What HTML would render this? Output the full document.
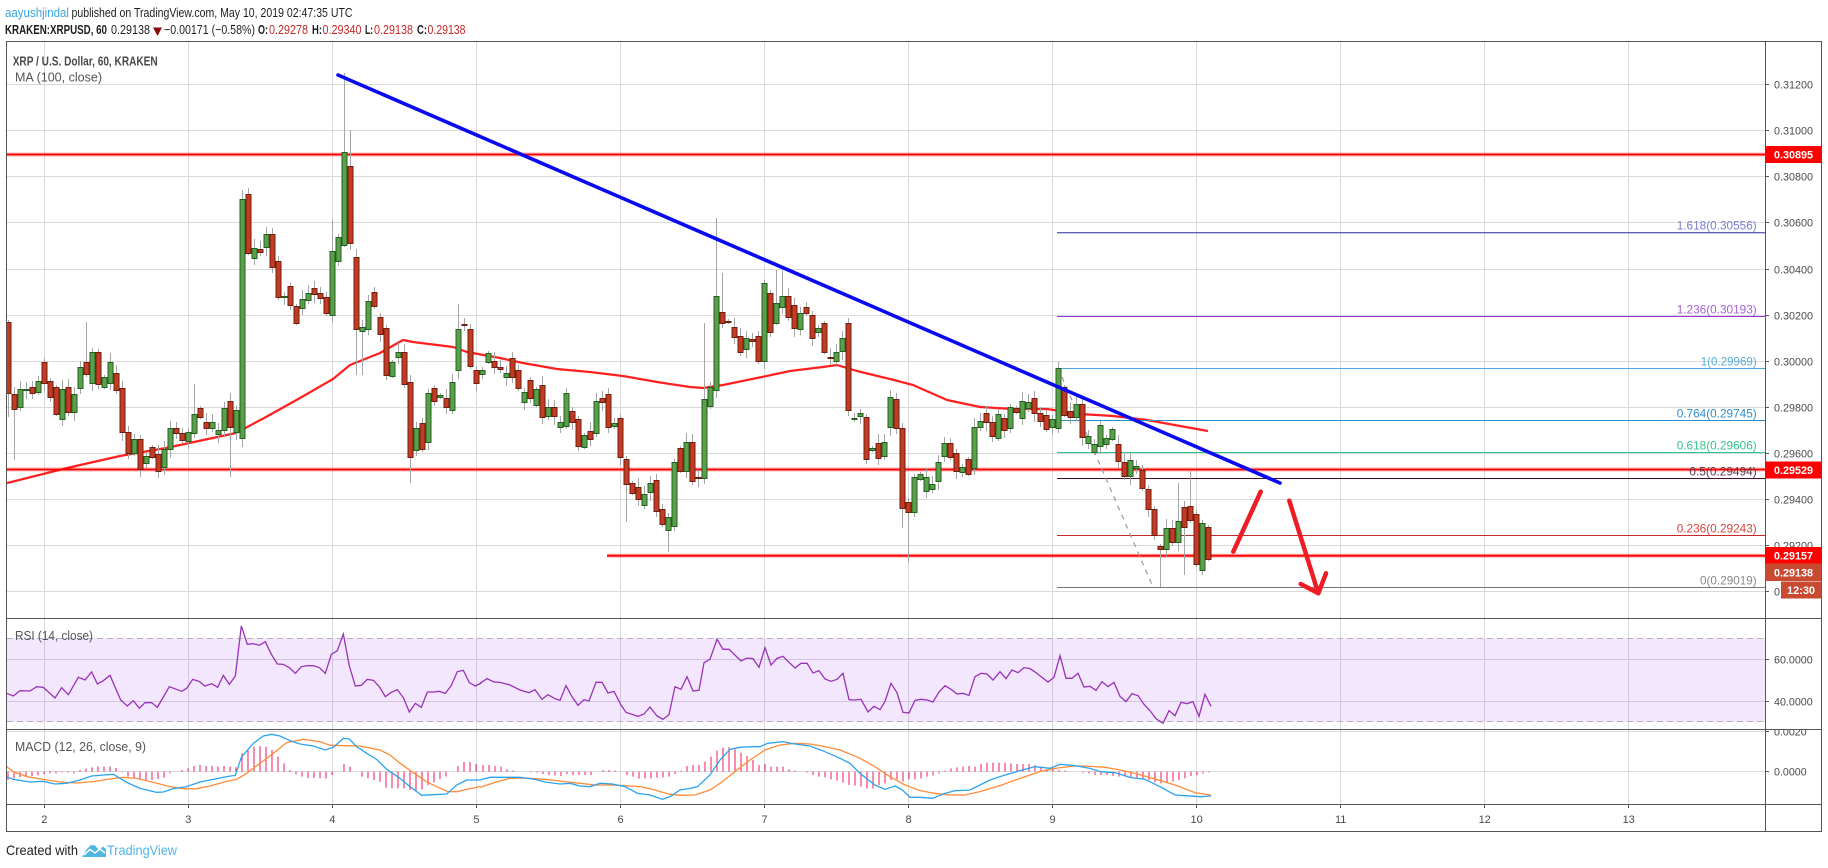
<!DOCTYPE html>
<html><head><meta charset="utf-8"><style>
html,body{margin:0;padding:0;background:#fff;}
svg{display:block;font-family:"Liberation Sans",Arial,sans-serif;}
</style></head><body>
<svg width="1828" height="868" viewBox="0 0 1828 868" xmlns="http://www.w3.org/2000/svg">
<defs>
<clipPath id="pp"><rect x="7" y="42" width="1758" height="576"/></clipPath>
<clipPath id="mc"><rect x="1766" y="730" width="56" height="74"/></clipPath>
</defs>
<rect width="1828" height="868" fill="#fff"/>

<!-- header -->
<text x="5" y="17" font-size="13" fill="#39a5dc" textLength="64" lengthAdjust="spacingAndGlyphs">aayushjindal</text>
<text x="71.5" y="17" font-size="13" fill="#1e1e1e" textLength="281" lengthAdjust="spacingAndGlyphs">published on TradingView.com, May 10, 2019 02:47:35 UTC</text>
<g font-size="13">
<text x="5" y="34" font-weight="bold" fill="#1e1e1e" textLength="102" lengthAdjust="spacingAndGlyphs">KRAKEN:XRPUSD, 60</text>
<text x="111" y="34" fill="#1e1e1e" textLength="39" lengthAdjust="spacingAndGlyphs">0.29138</text>
<polygon points="153,27.5 162,27.5 157.5,36" fill="#8b0a0a"/>
<text x="164" y="34" fill="#1e1e1e" textLength="91" lengthAdjust="spacingAndGlyphs">−0.00171 (−0.58%)</text>
<text x="258" y="34" font-weight="bold" fill="#1e1e1e" textLength="10" lengthAdjust="spacingAndGlyphs">O:</text>
<text x="269" y="34" fill="#c62828" textLength="39" lengthAdjust="spacingAndGlyphs">0.29278</text>
<text x="312" y="34" font-weight="bold" fill="#1e1e1e" textLength="10" lengthAdjust="spacingAndGlyphs">H:</text>
<text x="322.5" y="34" fill="#c62828" textLength="39" lengthAdjust="spacingAndGlyphs">0.29340</text>
<text x="365" y="34" font-weight="bold" fill="#1e1e1e" textLength="8" lengthAdjust="spacingAndGlyphs">L:</text>
<text x="374" y="34" fill="#c62828" textLength="39" lengthAdjust="spacingAndGlyphs">0.29138</text>
<text x="417" y="34" font-weight="bold" fill="#1e1e1e" textLength="10" lengthAdjust="spacingAndGlyphs">C:</text>
<text x="427.5" y="34" fill="#c62828" textLength="38" lengthAdjust="spacingAndGlyphs">0.29138</text>
</g>

<!-- grid: vertical -->
<g stroke="#d9d9d9" stroke-width="1">
<path d="M44.5 42V804M188.5 42V804M332.5 42V804M476.5 42V804M620.5 42V804M764.5 42V804M908.5 42V804M1052.5 42V804M1196.5 42V804M1340.5 42V804M1484.5 42V804M1628.5 42V804"/>
<path d="M7 84.5H1765M7 130.5H1765M7 176.5H1765M7 222.5H1765M7 269.5H1765M7 315.5H1765M7 361.5H1765M7 407.5H1765M7 453.5H1765M7 499.5H1765M7 545.5H1765M7 591.5H1765"/>
<path d="M7 731.5H1765M7 771.5H1765"/>
</g>

<!-- RSI band -->
<rect x="7" y="638" width="1758" height="84" fill="#f3e7fd"/>
<g stroke="#d2c5de" stroke-width="1">
<path d="M7 659.5H1765M7 701.5H1765"/>
<path d="M44.5 638V722M188.5 638V722M332.5 638V722M476.5 638V722M620.5 638V722M764.5 638V722M908.5 638V722M1052.5 638V722M1196.5 638V722M1340.5 638V722M1484.5 638V722M1628.5 638V722"/>
</g>
<g stroke="#b9b0bf" stroke-width="1" stroke-dasharray="6,4">
<path d="M7 638.5H1765M7 721.5H1765"/>
</g>

<!-- price pane content -->
<g clip-path="url(#pp)">
<!-- MA 100 -->
<polyline fill="none" stroke="#ff1f1f" stroke-width="2.2" stroke-linejoin="round" points="7,483 67,468 120,456 166,448 236,433 266,417 300,398 333,379 350,365 380,353 403,340 413,342 453,347 467,352 500,358 523,363 557,369 590,372 623,376 657,382 690,387 703,388 723,385 757,378 790,371 823,367 837,365 857,371 890,379 913,385 947,400 980,407 1013,409 1047,409 1080,414 1113,416 1147,420 1180,426 1208,431"/>
<!-- horizontal red levels -->
<g stroke="#ff0000">
<path d="M7 154.5H1765M7 469.5H1765M607 555.7H1765" stroke-width="4" stroke-opacity="0.3"/>
<path d="M7 154.5H1765M7 469.5H1765M607 555.7H1765" stroke-width="1.8"/>
</g>
<!-- fib lines -->
<g stroke-width="1">
<path d="M1057 232.7H1765" stroke="#2a2aa0"/>
<path d="M1057 316.5H1765" stroke="#9b30d9"/>
<path d="M1057 368.5H1765" stroke="#4aa8e0"/>
<path d="M1057 420.5H1765" stroke="#2490d0"/>
<path d="M1057 452.5H1765" stroke="#26c98a"/>
<path d="M1057 478.5H1765" stroke="#4a0c2c"/>
<path d="M1057 535.5H1765" stroke="#c82828"/>
<path d="M1057 587.5H1765" stroke="#777777"/>
</g>
<path d="M1058 368L1153 587" stroke="#9a9a9a" stroke-width="1.2" stroke-dasharray="5,5" fill="none"/>
<!-- candles -->
<g id="candles"></g>
<!-- trendline -->
<path d="M338 75L1280 483" stroke="#0a0af0" stroke-width="3.6" stroke-linecap="round"/>
<!-- arrows -->
<g stroke="#ee1c25" stroke-width="4.5" stroke-linecap="round" stroke-linejoin="round" fill="none">
<path d="M1233.3 551.7L1260.7 491.7"/>
<path d="M1289.3 500.7L1318.3 593.3"/>
<path d="M1300.7 584L1318.3 593.3L1326 573.3"/>
</g>
<!-- fib labels -->
<g font-size="12">
<text x="1676.7" y="229.5" fill="#7b7bd6" textLength="80" lengthAdjust="spacingAndGlyphs">1.618(0.30556)</text>
<text x="1676.7" y="313.5" fill="#a85fd8" textLength="80" lengthAdjust="spacingAndGlyphs">1.236(0.30193)</text>
<text x="1700.7" y="365.5" fill="#5aacdc" textLength="56" lengthAdjust="spacingAndGlyphs">1(0.29969)</text>
<text x="1676.7" y="417.5" fill="#2f8fcf" textLength="80" lengthAdjust="spacingAndGlyphs">0.764(0.29745)</text>
<text x="1676.7" y="449.5" fill="#35c48c" textLength="80" lengthAdjust="spacingAndGlyphs">0.618(0.29606)</text>
<text x="1689.4" y="475.5" fill="#5a3a4a" textLength="67.3" lengthAdjust="spacingAndGlyphs">0.5(0.29494)</text>
<text x="1676.7" y="532.5" fill="#d8443c" textLength="80" lengthAdjust="spacingAndGlyphs">0.236(0.29243)</text>
<text x="1700" y="584.5" fill="#8a8a8a" textLength="56.7" lengthAdjust="spacingAndGlyphs">0(0.29019)</text>
</g>
</g>

<!-- pane legends -->
<text x="12.7" y="65.5" font-size="13" font-weight="bold" fill="#4a4a4a" textLength="145" lengthAdjust="spacingAndGlyphs">XRP / U.S. Dollar, 60, KRAKEN</text>
<text x="15" y="81.5" font-size="13" fill="#555" textLength="87" lengthAdjust="spacingAndGlyphs">MA (100, close)</text>
<text x="15" y="640" font-size="13" fill="#555" textLength="78" lengthAdjust="spacingAndGlyphs">RSI (14, close)</text>
<text x="15" y="751" font-size="13" fill="#555" textLength="131" lengthAdjust="spacingAndGlyphs">MACD (12, 26, close, 9)</text>

<!-- RSI line -->
<g transform="translate(0,520) scale(0.333333)">
<polyline fill="none" stroke="#9932b8" stroke-width="1.3" vector-effect="non-scaling-stroke" points="20,520 40,528 60,512 90,513 110,500 130,502 165,534 185,503 205,524 235,472 255,480 275,456 292,492 310,482 330,466 362,540 382,558 400,542 418,565 435,548 455,548 472,562 508,500 545,514 560,505 578,478 597,484 615,498 635,491 653,502 670,466 688,493 706,468 724,318 742,373 760,371 778,376 796,365 814,403 832,432 850,433 868,443 886,460 904,440 922,437 940,437 958,443 976,460 994,403 1012,392 1030,342 1048,438 1066,498 1084,496 1102,478 1120,481 1138,500 1156,530 1174,517 1192,509 1210,533 1228,576 1246,550 1264,562 1282,516 1300,516 1318,514 1336,520 1354,496 1372,455 1390,451 1408,488 1426,498 1444,489"/>
</g>
<g transform="translate(480,620) scale(0.5,0.333333)">
<polyline fill="none" stroke="#9932b8" stroke-width="1.3" vector-effect="non-scaling-stroke" points="0,190 14,176 28,186 40,187 60,195 80,210 98,218 110,209 124,238 136,224 150,236 160,241 172,197 184,230 196,256 208,239 218,243 232,187 244,187 256,219 268,214 282,255 292,277 316,289 328,282 340,261 354,288 366,298 378,284 390,200 402,208 414,170 426,213 438,211 448,128 460,118 474,58 486,88 498,88 522,123 534,114 546,116 558,142 570,83 582,135 594,115 606,109 618,127 630,144 642,130 654,130 666,159 678,152 690,177 702,184 714,178 726,160 738,239 750,240 762,238 776,276 788,259 800,269 810,244 822,190 834,218 846,277 858,279 870,241 882,238 894,240 906,246 918,216 930,197 942,208 954,222 966,220 978,226 990,170 1002,160 1014,162 1026,180 1040,155 1052,176 1064,150 1076,158 1088,143 1100,146 1112,158 1124,172 1136,186 1148,172 1160,107 1172,175 1184,175 1196,160 1208,201 1220,199 1232,211 1244,185 1256,200 1268,187 1280,229 1292,245 1304,221 1316,227 1328,253 1340,272 1352,296 1366,310 1378,272 1390,287 1402,247 1414,251 1426,245 1438,289 1450,223 1462,259"/>
</g>

<!-- MACD -->
<g transform="translate(0,520) scale(0.333333)" fill="none" vector-effect="non-scaling-stroke">
<path stroke="#f2185b" stroke-width="1" vector-effect="non-scaling-stroke" d="M24 755V780M42 755V775M60 755V772M78 755V770M96 755V768M114 755V766M132 755V762M150 755V760M168 755V760M186 755V757M204 755V758M222 755V760M240 755V750M258 755V746M276 755V742M294 755V740M312 755V740M330 755V740M348 755V744M366 755V757M384 755V770M402 755V775M420 755V778M438 755V780M456 755V780M474 755V777M492 755V773M510 755V760M546 755V750M564 755V745M582 755V738M600 755V735M618 755V738M636 755V738M654 755V740M672 755V738M690 755V740M708 755V742M726 755V700M744 755V688M762 755V680M780 755V678M798 755V680M816 755V690M834 755V710M852 755V730M870 755V750M888 755V763M906 755V770M924 755V774M942 755V774M960 755V775M978 755V776M996 755V765M1032 755V732M1050 755V740M1086 755V770M1104 755V775M1122 755V780M1140 755V786M1158 755V803M1176 755V805M1194 755V805M1212 755V805M1230 755V810M1248 755V812M1266 755V808M1284 755V795M1302 755V787M1320 755V777M1338 755V770M1374 755V738M1392 755V726M1410 755V726M1428 755V732"/>
<polyline stroke="#ff8c38" stroke-width="1.3" vector-effect="non-scaling-stroke" points="20,740 40,755 80,770 130,778 180,786 230,789 280,785 330,777 370,772 410,775 460,787 510,800 550,806 590,806 630,798 680,784 710,778 740,760 780,730 820,700 860,668 910,658 960,665 990,676 1040,677 1080,678 1140,690 1170,705 1200,730 1240,758 1280,785 1310,800 1345,815 1370,815 1400,808 1440,800"/>
<polyline stroke="#2aa3f0" stroke-width="1.3" vector-effect="non-scaling-stroke" points="20,770 40,778 90,786 130,784 165,792 200,790 240,780 275,768 310,765 340,763 380,787 420,805 470,817 490,816 520,806 560,800 600,786 640,778 680,770 706,766 724,712 760,670 790,648 815,643 840,648 870,662 900,672 940,678 975,690 1000,682 1030,655 1048,657 1070,680 1100,700 1130,718 1160,748 1200,775 1230,800 1265,826 1300,824 1340,822 1370,795 1400,780 1440,780"/>
</g>
<g transform="translate(480,620) scale(0.5,0.333333)" fill="none">
<path stroke="#f2185b" stroke-width="1" vector-effect="non-scaling-stroke" d="M6 455V435M18 455V435M30 455V438M42 455V440M54 455V448M66 455V452M78 455V455M102 455V457M114 455V458M126 455V462M138 455V465M150 455V466M162 455V468M174 455V462M186 455V465M198 455V465M210 455V465M222 455V465M246 455V450M258 455V450M270 455V452M294 455V465M306 455V470M318 455V476M330 455V475M342 455V475M354 455V473M366 455V472M378 455V470M390 455V462M402 455V452M414 455V438M426 455V435M438 455V435M450 455V425M462 455V410M474 455V392M486 455V383M498 455V382M510 455V388M522 455V398M534 455V408M546 455V420M558 455V435M570 455V432M582 455V440M594 455V440M606 455V440M618 455V448M630 455V452M654 455V458M666 455V465M678 455V470M690 455V472M702 455V478M714 455V482M726 455V488M738 455V495M750 455V497M762 455V500M774 455V505M786 455V505M798 455V495M810 455V490M822 455V480M834 455V478M846 455V485M858 455V478M870 455V478M882 455V475M894 455V470M906 455V466M918 455V460M930 455V452M942 455V445M954 455V442M966 455V440M978 455V438M990 455V440M1002 455V432M1014 455V428M1026 455V428M1038 455V428M1050 455V428M1062 455V430M1074 455V432M1086 455V432M1098 455V432M1110 455V435M1122 455V440M1134 455V448M1146 455V448M1158 455V450M1170 455V452M1182 455V455M1194 455V455M1206 455V458M1218 455V460M1230 455V465M1242 455V465M1254 455V465M1266 455V468M1278 455V470M1290 455V470M1302 455V472M1314 455V473M1326 455V475M1338 455V480M1350 455V487M1362 455V490M1374 455V490M1386 455V485M1398 455V480M1410 455V475M1422 455V468M1434 455V465M1446 455V460M1458 455V458"/>
<polyline stroke="#ff8c38" stroke-width="1.3" vector-effect="non-scaling-stroke" points="0,502 30,487 60,475 90,474 130,478 170,485 200,490 230,495 260,495 290,497 320,500 345,508 380,523 400,526 430,525 460,510 480,490 510,455 540,420 570,390 600,375 630,370 660,372 690,380 720,390 760,415 790,440 820,470 850,495 880,512 910,520 940,525 970,525 1000,515 1040,497 1080,475 1120,455 1150,445 1190,438 1210,438 1250,442 1280,450 1310,460 1350,477 1390,495 1430,518 1462,525"/>
<polyline stroke="#2aa3f0" stroke-width="1.3" vector-effect="non-scaling-stroke" points="0,480 20,472 80,472 110,478 130,486 160,492 180,490 200,498 220,500 240,490 265,492 290,500 315,520 340,525 365,538 380,530 400,510 420,505 435,500 460,465 480,420 500,388 520,382 545,380 560,380 575,370 605,365 630,372 660,378 690,395 720,415 740,430 760,460 790,495 810,508 830,498 845,510 860,532 880,532 905,535 930,520 950,512 980,510 1000,495 1020,480 1050,465 1080,452 1110,440 1140,445 1160,433 1190,437 1220,445 1240,455 1270,458 1300,472 1330,478 1360,500 1390,525 1410,527 1440,530 1462,528"/>
</g>

<!-- frame -->
<g stroke="#555" stroke-width="1" fill="none">
<rect x="6.5" y="41.5" width="1815" height="790"/>
<path d="M1765.5 41.5V831.5M6.5 618.5H1821.5M6.5 729.5H1821.5M6.5 804.5H1821.5"/>
<path d="M1765 84.5H1769M1765 130.5H1769M1765 176.5H1769M1765 222.5H1769M1765 269.5H1769M1765 315.5H1769M1765 361.5H1769M1765 407.5H1769M1765 453.5H1769M1765 499.5H1769M1765 545.5H1769M1765 591.5H1769M1765 659.5H1769M1765 701.5H1769M1765 731.5H1769M1765 771.5H1769"/>
<path d="M44.5 804V808M188.5 804V808M332.5 804V808M476.5 804V808M620.5 804V808M764.5 804V808M908.5 804V808M1052.5 804V808M1196.5 804V808M1340.5 804V808M1484.5 804V808M1628.5 804V808"/>
</g>

<!-- price axis labels -->
<g font-size="11" fill="#4a4a4a">
<text x="1774" y="88.5" textLength="39" lengthAdjust="spacingAndGlyphs">0.31200</text>
<text x="1774" y="134.5" textLength="39" lengthAdjust="spacingAndGlyphs">0.31000</text>
<text x="1774" y="180.5" textLength="39" lengthAdjust="spacingAndGlyphs">0.30800</text>
<text x="1774" y="226.5" textLength="39" lengthAdjust="spacingAndGlyphs">0.30600</text>
<text x="1774" y="273.5" textLength="39" lengthAdjust="spacingAndGlyphs">0.30400</text>
<text x="1774" y="319.5" textLength="39" lengthAdjust="spacingAndGlyphs">0.30200</text>
<text x="1774" y="365.5" textLength="39" lengthAdjust="spacingAndGlyphs">0.30000</text>
<text x="1774" y="411.5" textLength="39" lengthAdjust="spacingAndGlyphs">0.29800</text>
<text x="1774" y="457.5" textLength="39" lengthAdjust="spacingAndGlyphs">0.29600</text>
<text x="1774" y="503.5" textLength="39" lengthAdjust="spacingAndGlyphs">0.29400</text>
<text x="1774" y="549.5" textLength="39" lengthAdjust="spacingAndGlyphs">0.29200</text>
<text x="1774" y="595.5" textLength="39" lengthAdjust="spacingAndGlyphs">0.29000</text>
<text x="1774" y="663.5" textLength="38.7" lengthAdjust="spacingAndGlyphs">60.0000</text>
<text x="1774" y="705.5" textLength="38.7" lengthAdjust="spacingAndGlyphs">40.0000</text>
<g clip-path="url(#mc)"><text x="1774" y="735.5" textLength="32.7" lengthAdjust="spacingAndGlyphs">0.0020</text></g>
<text x="1774" y="775.5" textLength="32.7" lengthAdjust="spacingAndGlyphs">0.0000</text>
</g>

<!-- price axis boxes -->
<rect x="1765" y="146" width="56.5" height="17" fill="#ff0000"/>
<rect x="1765" y="461.5" width="56.5" height="17" fill="#ff0000"/>
<rect x="1765" y="547" width="56.5" height="16.5" fill="#ff0000"/>
<rect x="1765" y="563.5" width="56.5" height="17.5" fill="#c84b31"/>
<rect x="1781" y="581.5" width="40.5" height="17" fill="#c84b31"/>
<g font-size="11" font-weight="bold" fill="#fff">
<text x="1774" y="158.5" textLength="39" lengthAdjust="spacingAndGlyphs">0.30895</text>
<text x="1774" y="474" textLength="39" lengthAdjust="spacingAndGlyphs">0.29529</text>
<text x="1774" y="559.5" textLength="39" lengthAdjust="spacingAndGlyphs">0.29157</text>
<text x="1774" y="576.5" textLength="39" lengthAdjust="spacingAndGlyphs">0.29138</text>
<text x="1787" y="594" textLength="28" lengthAdjust="spacingAndGlyphs">12:30</text>
</g>

<!-- time axis labels -->
<g font-size="11" fill="#4a4a4a" text-anchor="middle">
<text x="44.3" y="823">2</text>
<text x="188.3" y="823">3</text>
<text x="332.4" y="823">4</text>
<text x="476.4" y="823">5</text>
<text x="620.5" y="823">6</text>
<text x="764.5" y="823">7</text>
<text x="908.5" y="823">8</text>
<text x="1052.6" y="823">9</text>
<text x="1196.6" y="823">10</text>
<text x="1340.7" y="823">11</text>
<text x="1484.7" y="823">12</text>
<text x="1628.7" y="823">13</text>
</g>

<!-- footer -->
<text x="6" y="855" font-size="14" fill="#222" textLength="72" lengthAdjust="spacingAndGlyphs">Created with</text>
<polygon points="82,857 87,849 91,845 95,845.5 99,850 103,846.5 106,849 106,857" fill="#4fb6e3"/>
<polyline points="84,855 90,849.5 95,853 100,849 105,853" fill="none" stroke="#fff" stroke-width="1.5"/>
<text x="107" y="855" font-size="14" fill="#4fb6e3" textLength="70" lengthAdjust="spacingAndGlyphs">TradingView</text>
</svg>
<script>
(function(){
var D=[
[322,393,0],[394,409,0],[389,407,1],[389,390,1],[387,393,0],[381,392,1],[362,383,0],[381,397,0],[387,414,0],[389,419,1],
[387,412,0],[394,412,1],[367,388,1],[362,374,0],[352,383,1],[352,384,0],[377,387,1],[362,383,1],[373,390,0],[388,432,0],
[432,453,0],[439,453,1],[439,469,0],[456,463,1],[447,457,0],[454,471,0],[449,467,1],[428,449,1],[428,433,0],[433,440,0],
[432,441,1],[414,433,1],[408,417,0],[422,428,0],[422,428,1],[430,434,1],[408,430,1],[401,427,0],[410,432,1],[199,438,1],
[194,253,0],[248,258,1],[249,252,0],[234,247,1],[234,267,0],[261,297,0],[296,297,1],[286,305,0],[306,323,0],[299,308,1],
[293,300,1],[288,294,0],[293,298,0],[297,313,0],[251,315,1],[237,261,1],[152,245,1],[166,243,0],[257,329,0],[327,331,1],
[301,329,1],[292,306,0],[317,334,0],[328,375,0],[362,376,1],[352,357,1],[352,384,0],[382,457,0],[428,450,1],[423,449,0],
[393,442,1],[388,401,0],[395,397,1],[398,407,0],[382,410,1],[329,370,1],[324,325,0],[329,366,0],[370,383,0],[370,374,1],
[353,362,1],[361,367,0],[367,369,0],[373,377,1],[358,377,0],[370,388,0],[392,402,1],[380,398,0],[389,405,1],[385,417,0],
[407,416,1],[407,416,0],[422,427,1],[393,426,1],[411,422,0],[419,446,0],[435,447,1],[431,439,0],[401,433,1],[398,402,0],
[394,427,0],[423,426,1],[418,457,0],[459,484,0],[483,493,0],[487,499,0],[494,505,1],[483,492,1],[480,511,0],[509,524,0],
[517,530,1],[462,526,1],[448,471,0],[442,471,1],[442,481,0],[477,478,0],[399,478,1],[387,406,1],[296,390,1],[312,323,0],
[321,322,0],[327,337,0],[336,352,0],[338,349,1],[339,341,0],[336,361,0],[283,361,1],[293,332,0],[303,323,1],[296,307,1],
[296,317,0],[305,328,0],[313,329,1],[307,313,0],[315,338,0],[328,332,1],[323,352,0],[357,358,0],[352,361,1],[338,351,1],
[323,410,0],[418,419,1],[413,416,1],[417,459,0],[448,450,1],[443,458,0],[442,456,1],[397,427,1],[399,428,0],[428,508,0],
[502,512,0],[477,512,1],[474,479,1],[477,491,1],[484,489,1],[462,481,1],[443,456,1],[443,457,0],[453,471,0],[467,472,1],
[459,474,0],[427,468,1],[421,427,1],[413,422,0],[422,436,0],[414,438,1],[418,430,0],[407,428,1],[408,412,0],[401,418,1],
[402,408,1],[398,413,0],[413,421,0],[415,429,0],[419,427,1],[368,428,1],[387,415,0],[411,417,0],[404,417,1],[404,437,0],
[436,443,1],[444,452,1],[425,446,1],[438,444,1],[429,439,1],[444,461,0],[462,476,0],[460,476,1],[466,468,1],[470,488,0],
[489,509,0],[509,535,0],[546,549,0],[528,549,1],[528,542,0],[521,542,1],[507,527,0],[506,520,0],[514,564,0],[523,570,1],
[527,559,0]];
var O={0:[0,417],1:[387,460],13:[322,0],26:[0,475],31:[384,0],37:[393,477],39:[190,447],40:[188,0],54:[220,0],56:[73,0],57:[130,0],58:[0,375],59:[0,375],67:[0,483],75:[304,0],103:[0,522],110:[0,552],116:[323,0],118:[218,0],119:[273,0],126:[280,0],128:[270,0],129:[270,0],140:[318,0],149:[0,528],150:[0,563],175:[362,0],192:[0,587],195:[483,0],196:[0,575],197:[471,0],198:[0,567]};
var s='';
for(var i=0;i<D.length;i++){
 var cx=Math.round(8+6.0017*i)+0.5;
 var t=D[i][0],b=D[i][1],g=D[i][2];
 var hi=t-(2+(i*7)%8), lo=b+(2+(i*5)%8);
 if(O[i]){ if(O[i][0]) hi=O[i][0]; if(O[i][1]) lo=O[i][1]; }
 s+='<line x1="'+cx+'" x2="'+cx+'" y1="'+hi+'" y2="'+lo+'" stroke="#a6a6a6" stroke-width="1"/>';
 var h=b-t; if(h<1) h=1;
 s+='<rect x="'+(cx-2.5)+'" y="'+(t+0.5)+'" width="5" height="'+h+'" fill="'+(g?'#5a9f4a':'#c53b21')+'" stroke="'+(g?'#245f22':'#6f1e12')+'" stroke-width="1"/>';
}
document.getElementById('candles').innerHTML=s;
})();
</script>
</body></html>
